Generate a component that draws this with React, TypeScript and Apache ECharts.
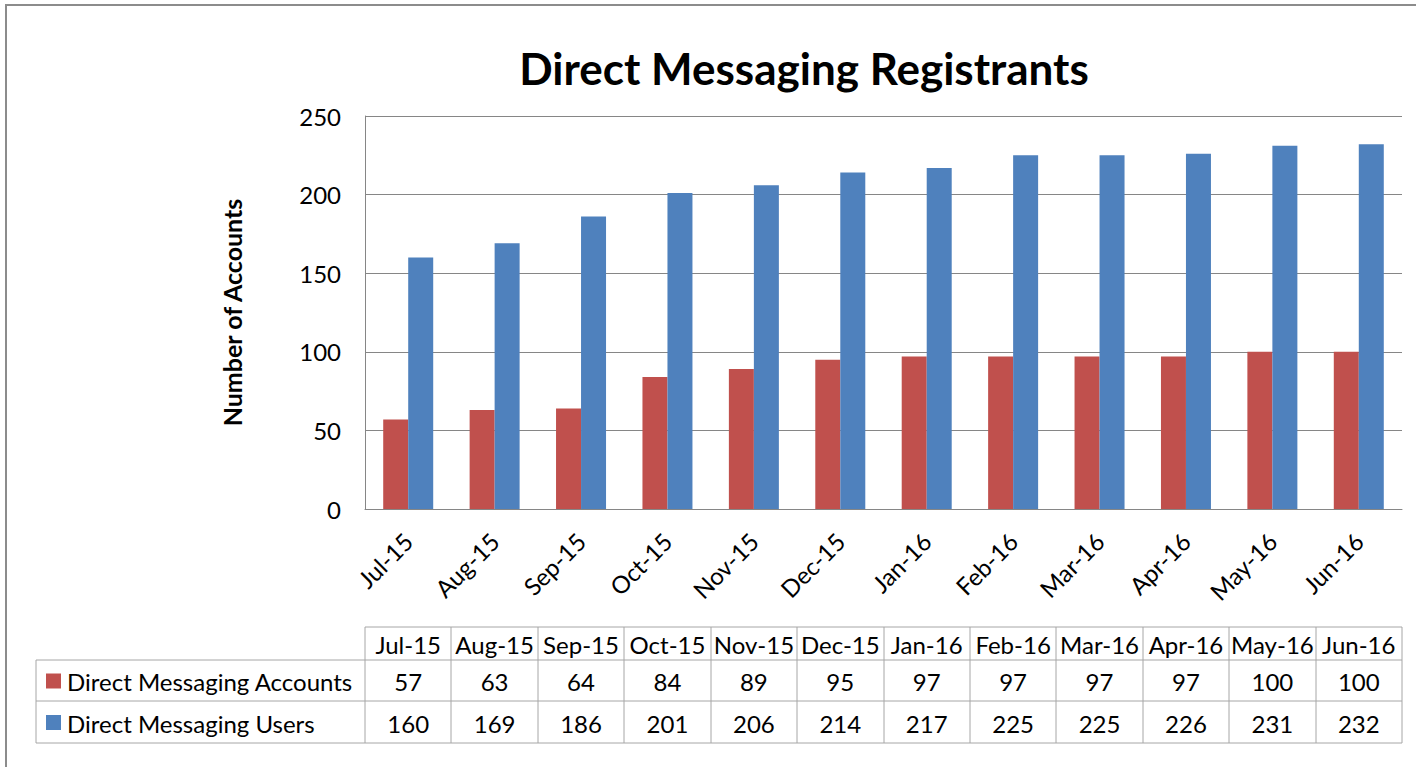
import React, { useEffect, useRef } from "react";
import * as echarts from "echarts";

const categories = ["Jul-15", "Aug-15", "Sep-15", "Oct-15", "Nov-15", "Dec-15", "Jan-16", "Feb-16", "Mar-16", "Apr-16", "May-16", "Jun-16"];
const accounts = [57, 63, 64, 84, 89, 95, 97, 97, 97, 97, 100, 100];
const users = [160, 169, 186, 201, 206, 214, 217, 225, 225, 226, 231, 232];
const seriesNames = ["Direct Messaging Accounts", "Direct Messaging Users"];
const colors = ["#C0504D", "#4F81BD"];

const FONT = "Lato, 'Open Sans', sans-serif";
const FS = 24;

export default function App() {
  const ref = useRef<HTMLDivElement>(null);
  useEffect(() => {
    if (!ref.current) return;
    const chart = echarts.init(ref.current, null, { renderer: "svg" });
    const gl = 365, gt = 116, gw = 1037, gh = 393;
    const colW = gw / categories.length;
    const tLeft = 36, hTop = 627, r1Top = 660, r2Top = 701, tBottom = 743;
    const lineStyle = { stroke: "#A6A6A6", lineWidth: 1 };
    const g: any[] = [];
    g.push({ type: "rect", shape: { x: 6, y: 5, width: 1420, height: 800 }, style: { fill: "none", stroke: "#8C8C8C", lineWidth: 2 }, silent: true });
    const right = gl + gw;
    g.push({ type: "line", shape: { x1: gl, y1: hTop, x2: right, y2: hTop }, style: lineStyle });
    [r1Top, r2Top, tBottom].forEach((y) => g.push({ type: "line", shape: { x1: tLeft, y1: y, x2: right, y2: y }, style: lineStyle }));
    g.push({ type: "line", shape: { x1: tLeft, y1: r1Top, x2: tLeft, y2: tBottom }, style: lineStyle });
    for (let i = 0; i <= categories.length; i++) {
      const x = Math.round(gl + i * colW);
      g.push({ type: "line", shape: { x1: x, y1: hTop, x2: x, y2: tBottom }, style: lineStyle });
    }
    const rows = [accounts, users];
    const rowMid = [(r1Top + r2Top) / 2, (r2Top + tBottom) / 2];
    categories.forEach((c, i) => {
      const cx = gl + (i + 0.5) * colW;
      g.push({ type: "text", x: cx, y: (hTop + r1Top) / 2 + 1, style: { text: c, fill: "#000", font: `${FS}px ${FONT}`, textAlign: "center", textVerticalAlign: "middle" } });
      rows.forEach((r, k) => {
        g.push({ type: "text", x: cx, y: rowMid[k] + 1, style: { text: String(r[i]), fill: "#000", font: `${FS}px ${FONT}`, textAlign: "center", textVerticalAlign: "middle" } });
      });
    });
    seriesNames.forEach((n, k) => {
      g.push({ type: "rect", shape: { x: 46, y: rowMid[k] - 7, width: 15, height: 15 }, style: { fill: colors[k] } });
      g.push({ type: "text", x: 67, y: rowMid[k] + 1, style: { text: n, fill: "#000", font: `${FS}px ${FONT}`, textAlign: "left", textVerticalAlign: "middle" } });
    });

    chart.setOption({
      animation: false,
      title: {
        text: "Direct Messaging Registrants",
        left: 799,
        top: 41,
        textAlign: "center",
        textStyle: { fontFamily: FONT, fontWeight: "bold", fontSize: 44, color: "#000" },
      },
      grid: { left: gl, top: gt, width: gw, height: gh },
      xAxis: {
        type: "category",
        data: categories,
        axisLine: { lineStyle: { color: "#868686" } },
        axisTick: { show: false },
        axisLabel: { rotate: 45, fontSize: FS, fontFamily: FONT, color: "#000", margin: 28, interval: 0 },
      },
      yAxis: {
        type: "value",
        min: 0,
        max: 250,
        interval: 50,
        name: "Number of Accounts",
        nameLocation: "middle",
        nameGap: 121,
        nameTextStyle: { fontFamily: FONT, fontWeight: "bold", fontSize: 25, color: "#000" },
        axisLine: { show: true, lineStyle: { color: "#868686" } },
        axisTick: { show: false },
        splitLine: { lineStyle: { color: "#868686" } },
        axisLabel: { fontSize: FS, fontFamily: FONT, color: "#000", margin: 24 },
      },
      series: [
        { name: seriesNames[0], type: "bar", data: accounts, barWidth: 25, barGap: "0%", itemStyle: { color: colors[0] } },
        { name: seriesNames[1], type: "bar", data: users, barWidth: 25, barGap: "0%", itemStyle: { color: colors[1] } },
      ],
      graphic: g,
    });
    return () => chart.dispose();
  }, []);
  return <div ref={ref} style={{ position: "absolute", left: 0, top: 0, width: 1416, height: 767, background: "#fff" }} />;
}
